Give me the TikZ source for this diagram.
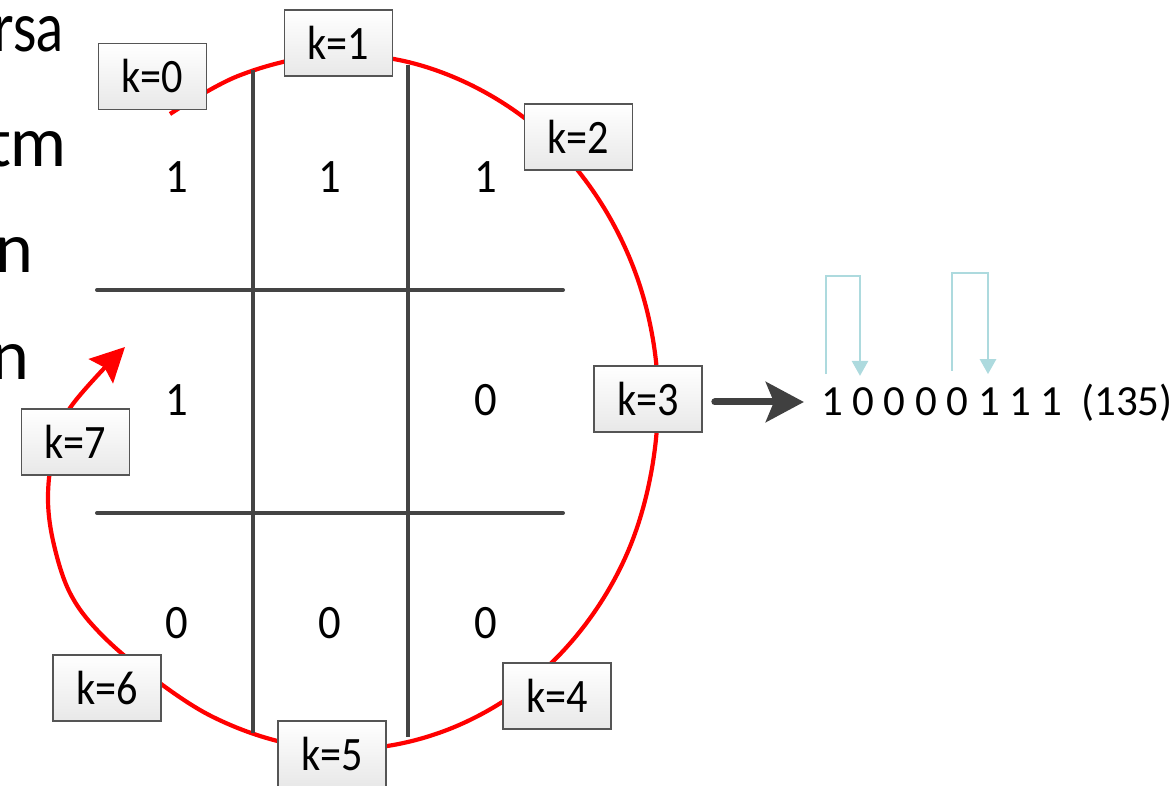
\documentclass[tikz,border=0pt]{standalone}
\usepackage{fontspec}
\setmainfont{Carlito}
\newfontfamily\calib[FakeStretch=0.88]{Carlito}
\newfontfamily\calibc[FakeStretch=0.93]{Carlito}
\newfontfamily\gillnarrow[FakeStretch=0.8]{Lato}
\newfontfamily\gill{Lato}
\usetikzlibrary{arrows.meta,calc}
\definecolor{gridgray}{HTML}{444444}
\definecolor{boxborder}{HTML}{555555}
\definecolor{lightblue}{HTML}{ADDADE}
\definecolor{arrowgray}{HTML}{404040}
\tikzset{
  kbox/.style={draw=boxborder, line width=1.6pt, top color=white, bottom color=black!9,
    minimum width=108pt, minimum height=66pt, inner sep=0pt,
    font=\calib\fontsize{48}{50}\selectfont},
  cell/.style={font=\calibc\fontsize{48}{50}\selectfont, inner sep=0pt, anchor=base},
  seqdigit/.style={font=\fontsize{43}{46}\selectfont, inner sep=0pt, anchor=base},
  lefttext/.style={font=\gill\fontsize{68}{72}\selectfont, inner sep=0pt, anchor=base east},
  gridline/.style={draw=gridgray, line width=4pt},
  cyclepath/.style={draw=red, line width=4.2pt, -{Stealth[length=34pt,width=34pt,inset=5pt]}},
  bigarrow/.style={draw=arrowgray, line width=7pt, line cap=round,
    -{Stealth[length=38pt,width=40pt,inset=8pt]}},
  bluearrow/.style={draw=lightblue, line width=2.7pt, -{Triangle[length=15pt,width=16pt]}}
}
\begin{document}
\begin{tikzpicture}[x=1pt,y=-1pt]
\useasboundingbox (0,0) rectangle (1176,786);
\clip (0,0) rectangle (1176,786);

% cut-off slide text at the left edge
\node[lefttext, font=\gillnarrow\fontsize{68}{72}\selectfont] (w1) at (64,52) {rsa};
\node[lefttext] (w2) at (67,167) {tm};
\node[lefttext] (w3) at (34,273) {n};
\node[lefttext] (w4) at (30,380) {n};

% red cycle
\draw[cyclepath] plot[smooth, tension=0.6] coordinates {
  (170,114) (238,76) (318,56) (399,60) (477,88) (546,136) (601,203)
  (639,283) (657,372) (653,462) (629,549) (585,625) (525,686) (452,728)
  (372,748) (291,744) (213,717) (145,672) (98,631) (70,593) (54,545)
  (48,500) (53,455) (70,408) (125,347)};

% grid
\draw[gridline] (253,70) -- (253,733);
\draw[gridline] (408,65) -- (408,737);
\draw[gridline, line cap=round] (97,290) -- (563,290);
\draw[gridline, line cap=round] (97,513) -- (563,513);

% cell values
\node[cell] (c00) at (177,193) {1};
\node[cell] (c01) at (330,193) {1};
\node[cell] (c02) at (486,193) {1};
\node[cell] (c10) at (177,416) {1};
\node[cell] (c12) at (486,416) {0};
\node[cell] (c20) at (177,638) {0};
\node[cell] (c21) at (330,638) {0};
\node[cell] (c22) at (486,638) {0};

% k boxes
\node[kbox] (k0) at (152.5,76.5) {k=0};
\node[kbox] (k1) at (338.5,43) {k=1};
\node[kbox] (k2) at (578.5,137) {k=2};
\node[kbox] (k3) at (648,399) {k=3};
\node[kbox] (k4) at (557,696) {k=4};
\node[kbox] (k5) at (332,754) {k=5};
\node[kbox] (k6) at (107,688) {k=6};
\node[kbox] (k7) at (75.5,442) {k=7};

% bit sequence
\node[seqdigit] (d1) at (832,415) {1};
\node[seqdigit] (d2) at (863.4,415) {0};
\node[seqdigit] (d3) at (894.8,415) {0};
\node[seqdigit] (d4) at (926.2,415) {0};
\node[seqdigit] (d5) at (957.6,415) {0};
\node[seqdigit] (d6) at (989,415) {1};
\node[seqdigit] (d7) at (1020.4,415) {1};
\node[seqdigit] (d8) at (1051.8,415) {1};
\node[seqdigit] (val) at (1127,415) {(135)};

% arrow from k=3 to the sequence
\draw[bigarrow, shorten <=12pt, shorten >=17pt]
  ([yshift=-3pt]k3.east) -- ([yshift=-3pt]k3.east -| d1.west);

% light blue transition arrows
\draw[bluearrow] ([shift={(-6,-13)}]d1.north) |- ([shift={(-3.4,-111)}]d2.north)
  -- ([shift={(-3.4,-11)}]d2.north);
\draw[bluearrow] ([shift={(-5.6,-16)}]d5.north) |- ([shift={(-1,-114)}]d6.north)
  -- ([shift={(-1,-13)}]d6.north);
\end{tikzpicture}
\end{document}
